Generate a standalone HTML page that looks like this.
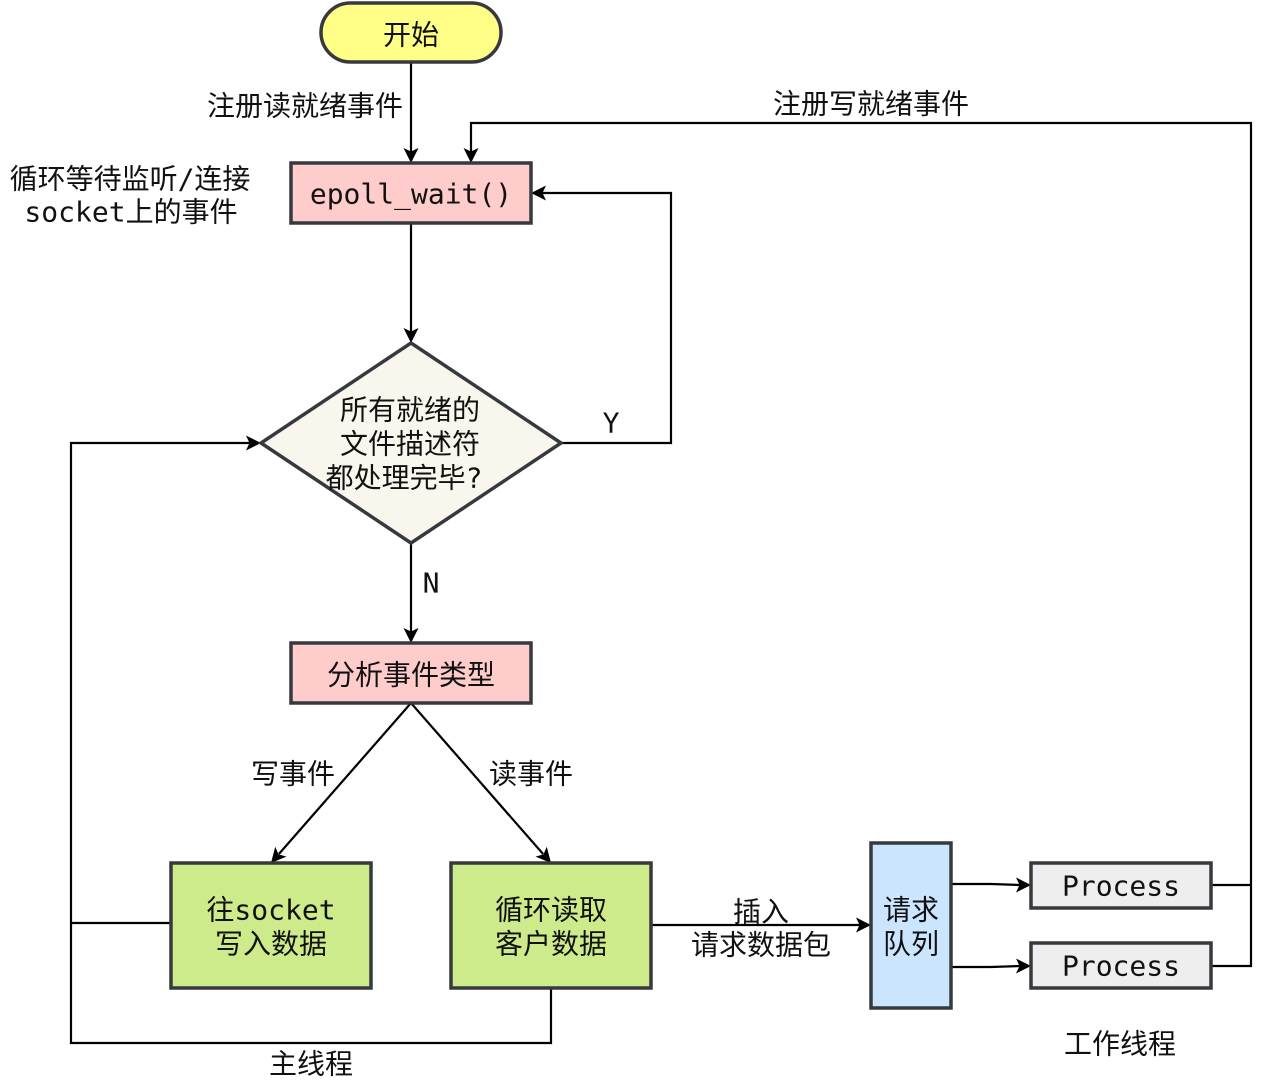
<!DOCTYPE html>
<html><head><meta charset="utf-8"><style>
html,body{margin:0;padding:0;background:#fff;}
svg{display:block;}
text{font-family:"DejaVu Sans Mono","WenQuanYi Zen Hei","Noto Sans CJK SC",monospace;font-size:28px;fill:#111;}
</style></head><body>
<svg width="1268" height="1080" viewBox="0 0 1268 1080" xmlns="http://www.w3.org/2000/svg">
<g fill="none" stroke="#000" stroke-width="2.2">
  <line x1="411" y1="62" x2="411" y2="152"/>
  <line x1="411" y1="223" x2="411" y2="332"/>
  <polyline points="561,443 671,443 671,193 542,193"/>
  <line x1="411" y1="543" x2="411" y2="632"/>
  <line x1="411" y1="703" x2="278.9" y2="854"/>
  <line x1="411" y1="703" x2="543.1" y2="854"/>
  <polyline points="171,923 71,923"/>
  <polyline points="551,988 551,1043 71,1043 71,443 250,443"/>
  <line x1="651" y1="925" x2="860" y2="925"/>
  <polyline points="951,884 991,884 1020,885"/>
  <polyline points="951,967 991,967 1020,966"/>
  <polyline points="1211,885 1251,885"/>
  <polyline points="1211,966 1251,966 1251,123 471,123 471,152"/>
</g>
<defs>
  <polygon id="ah" points="0,0 -15,-7.5 -11.5,0 -15,7.5"/>
</defs>
<g fill="#000">
  <use href="#ah" transform="translate(411,163) rotate(90)"/>
  <use href="#ah" transform="translate(411,343) rotate(90)"/>
  <use href="#ah" transform="translate(411,643) rotate(90)"/>
  <use href="#ah" transform="translate(471,163) rotate(90)"/>
  <use href="#ah" transform="translate(531,193) rotate(180)"/>
  <use href="#ah" transform="translate(261,443)"/>
  <use href="#ah" transform="translate(871,925)"/>
  <use href="#ah" transform="translate(1031,885)"/>
  <use href="#ah" transform="translate(1031,966)"/>
  <use href="#ah" transform="translate(271,863) rotate(131.19)"/>
  <use href="#ah" transform="translate(551,863) rotate(48.81)"/>
</g>
<g stroke="#36393d" stroke-width="3.5">
  <rect x="321" y="3" width="180" height="59" rx="29.5" ry="29.5" fill="#ffff88"/>
  <rect x="291" y="163" width="240" height="60" fill="#ffcccc"/>
  <polygon points="411,343 561,443 411,543 261,443" fill="#f9f7ed"/>
  <rect x="291" y="643" width="240" height="60" fill="#ffcccc"/>
  <rect x="171" y="863" width="200" height="125" fill="#cdeb8b"/>
  <rect x="451" y="863" width="200" height="125" fill="#cdeb8b"/>
  <rect x="871" y="843" width="80" height="165" fill="#cce5ff"/>
  <rect x="1031" y="863" width="180" height="45" fill="#eeeeee"/>
  <rect x="1031" y="943" width="180" height="45" fill="#eeeeee"/>
</g>
<g text-anchor="middle" dominant-baseline="central">
  <text x="411" y="35">开始</text>
  <text x="305" y="106">注册读就绪事件</text>
  <text x="871" y="104">注册写就绪事件</text>
  <text x="130" y="179">循环等待监听/连接</text>
  <text x="131" y="212">socket上的事件</text>
  <text x="411" y="194">epoll_wait()</text>
  <text x="410" y="410">所有就绪的</text>
  <text x="410" y="444">文件描述符</text>
  <text x="404" y="478">都处理完毕?</text>
  <text x="611" y="423">Y</text>
  <text x="431" y="583">N</text>
  <text x="411" y="675">分析事件类型</text>
  <text x="293" y="774">写事件</text>
  <text x="531" y="774">读事件</text>
  <text x="271" y="910">往socket</text>
  <text x="271" y="944">写入数据</text>
  <text x="551" y="910">循环读取</text>
  <text x="551" y="944">客户数据</text>
  <text x="761" y="912">插入</text>
  <text x="761" y="945">请求数据包</text>
  <text x="911" y="910">请求</text>
  <text x="911" y="944">队列</text>
  <text x="1121" y="886">Process</text>
  <text x="1121" y="966">Process</text>
  <text x="311" y="1064">主线程</text>
  <text x="1120" y="1044">工作线程</text>
</g>
</svg>
</body></html>
